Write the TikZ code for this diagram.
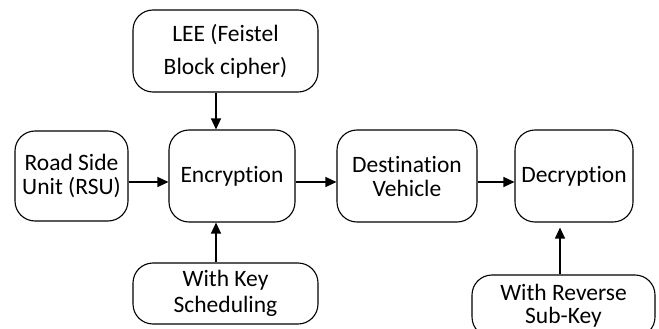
\documentclass[tikz,border=0pt]{standalone}
\usepackage{fontspec}
\setmainfont[Ligatures=NoCommon]{Carlito}
\usetikzlibrary{arrows.meta}
\begin{document}
\begin{tikzpicture}[x=1pt,y=-1pt,
  box/.style={draw, line width=1.1pt, rounded corners=20pt, align=center, inner sep=0pt},
  arr/.style={line width=1.2pt, -{Triangle[length=11pt,width=10pt]}}]
\useasboundingbox (0,0) rectangle (659,329);
\clip (0,0) rectangle (659,329);
\node[box, minimum width=185pt, minimum height=82pt, font=\fontsize{23.5}{33}\selectfont] (lee) at (225.5,51) {LEE (Feistel\\Block cipher)};
\node[box, minimum width=113pt, minimum height=90pt, font=\fontsize{23.5}{24}\selectfont] (rsu) at (71.5,176) {Road Side\\Unit (RSU)};
\node[box, minimum width=126pt, minimum height=92pt, font=\fontsize{23.5}{26}\selectfont] (enc) at (232,176) {Encryption};
\node[box, minimum width=140pt, minimum height=92pt, font=\fontsize{23.5}{24}\selectfont] (dst) at (407,176) {Destination\\Vehicle};
\node[box, minimum width=118pt, minimum height=92pt, font=\fontsize{23.5}{26}\selectfont] (dec) at (574,176) {Decryption};
\node[box, minimum width=185pt, minimum height=61pt, font=\fontsize{23.5}{26}\selectfont] (key) at (225.5,293.5) {With Key\\Scheduling};
\node[box, minimum width=183pt, minimum height=62pt, font=\fontsize{23.5}{23}\selectfont] (rev) at (563.5,306) {With Reverse\\Sub-Key};
\coordinate (ax) at (216,0);
\coordinate (bx) at (560,0);
\coordinate (ay) at (0,182);
\draw[arr] (lee.south -| ax) -- (enc.north -| ax);
\draw[arr] (key.north -| ax) -- (enc.south -| ax);
\draw[arr] (rsu.east |- ay) -- (enc.west |- ay);
\draw[arr] (enc.east |- ay) -- (dst.west |- ay);
\draw[arr] (dst.east |- ay) -- (dec.west |- ay);
\draw[arr] (rev.north -| bx) -- ([yshift=-5pt]dec.south -| bx);
\end{tikzpicture}
\end{document}
